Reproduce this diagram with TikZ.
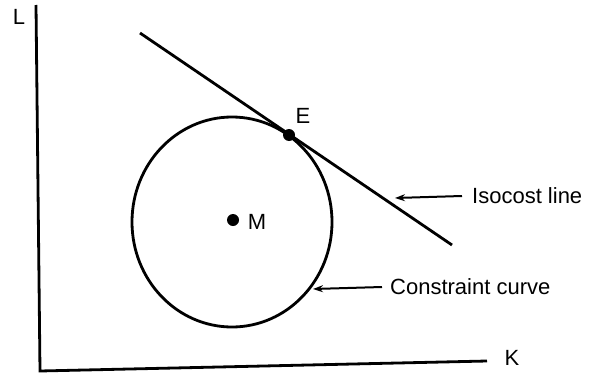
\documentclass[tikz,border=0pt]{standalone}
\usepackage{fontspec}
\setmainfont{Liberation Sans}
\usetikzlibrary{arrows.meta,shapes.geometric}
\begin{document}
\begin{tikzpicture}[x=1pt,y=-1pt,
  thick line/.style={line width=2.8pt},
  pointer/.style={line width=2pt,-{Stealth[length=10pt,width=7pt]}},
  dotmark/.style={circle,fill=black,inner sep=0pt,minimum size=12pt},
  lbl/.style={font=\fontsize{22}{26}\selectfont,inner sep=0pt}]
\useasboundingbox (0,0) rectangle (594,372);
% axes
\coordinate (Ltop) at (36,5);
\coordinate (O) at (40,371);
\coordinate (Kend) at (487,361);
\draw[thick line] (Ltop) -- (O) -- (Kend);
\node[lbl] (L) at (19,17) {L};
\node[lbl] (K) at (512,358) {K};
% constraint curve
\node[draw,thick line,ellipse,minimum width=200pt,minimum height=210pt,inner sep=0pt] (C) at (232,222) {};
% isocost line
\coordinate (I1) at (140,33);
\coordinate (I2) at (452,245);
\draw[thick line] (I1) -- (I2);
% points
\node[dotmark] (E) at (289,135) {};
\node[dotmark] (M) at (233,220) {};
\node[lbl] (Elab) at (303,116) {E};
\node[lbl] (Mlab) at (257,222) {M};
% labels with pointers
\node[lbl,anchor=west] (iso) at (472,196) {Isocost line};
\coordinate (isotip) at (395,198);
\draw[pointer] ([xshift=-10pt]iso.west) -- (isotip);
\node[lbl,anchor=west] (con) at (390,287) {Constraint curve};
\coordinate (contip) at (313,289);
\draw[pointer] ([xshift=-8pt]con.west) -- (contip);
\end{tikzpicture}
\end{document}
